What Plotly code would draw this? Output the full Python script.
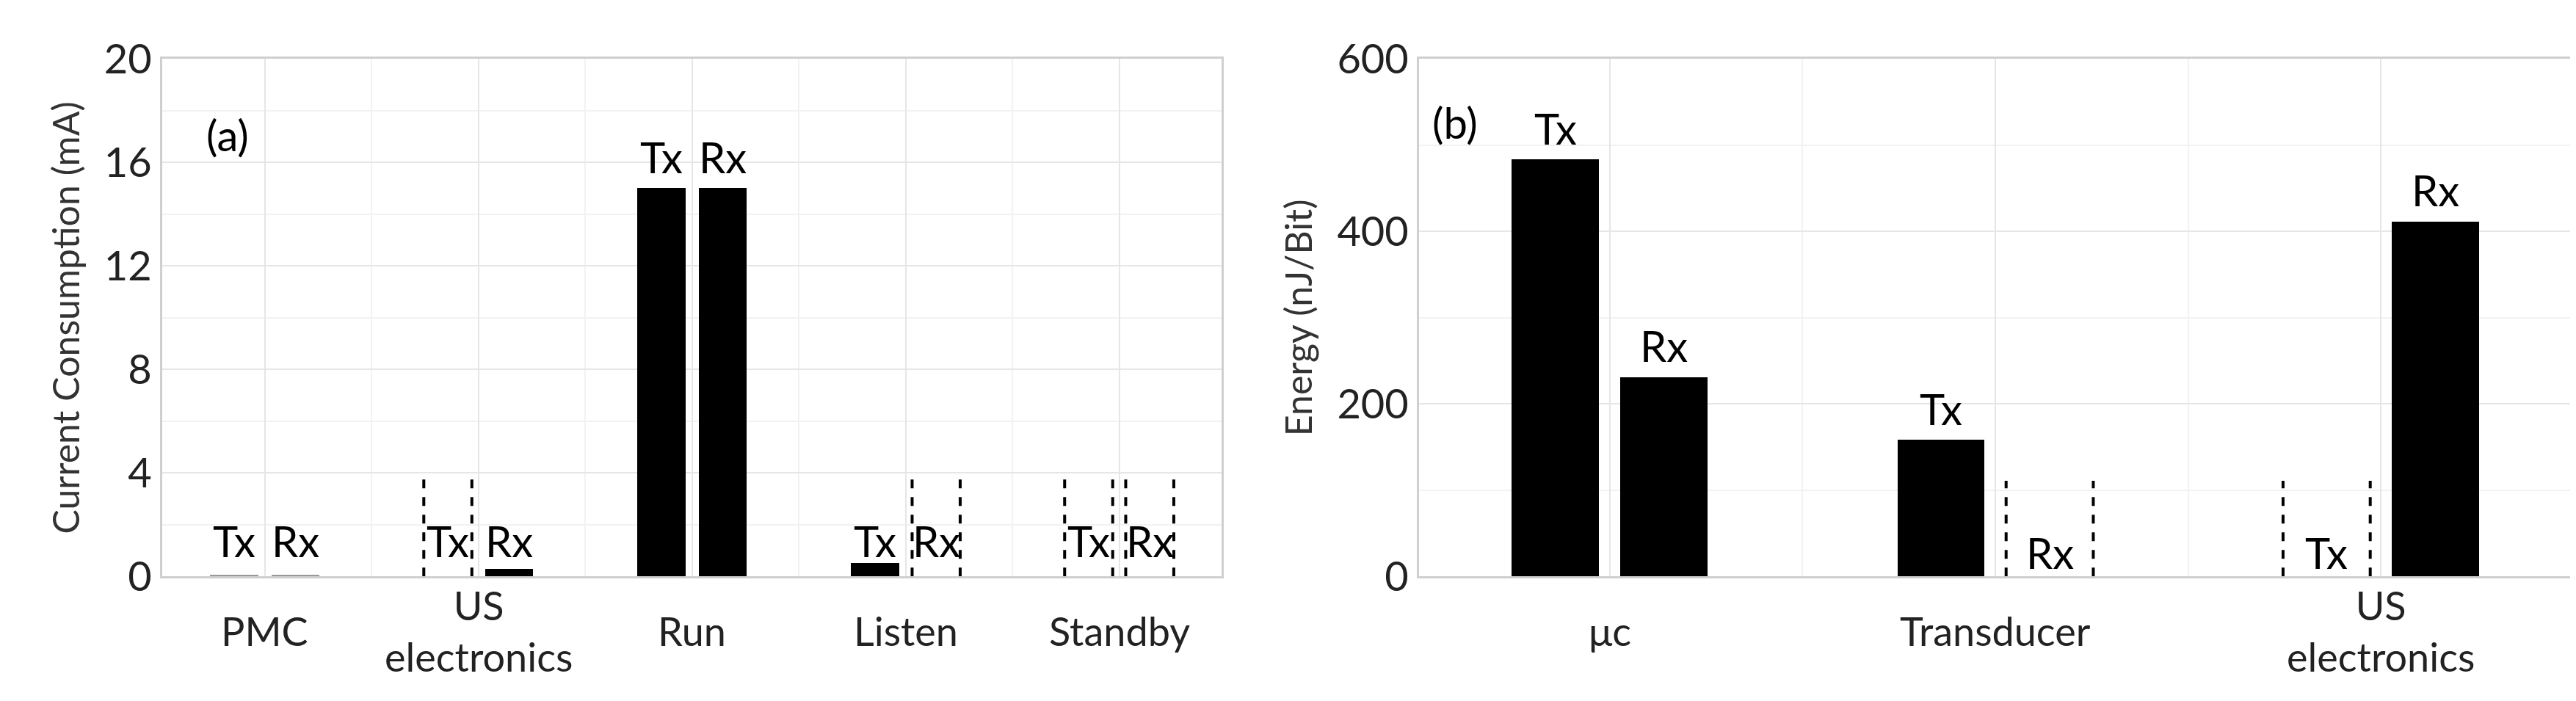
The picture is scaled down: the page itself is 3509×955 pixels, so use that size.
import plotly.graph_objects as go

# Panel (a)
cats_a = ["PMC", "US<br>electronics", "Run", "Listen", "Standby"]
tx_a = [0.05, None, 15.0, 0.5, None]      # None = dashed placeholder
rx_a = [0.05, 0.3, 15.0, None, None]
ph_a = 4.0          # placeholder height
lab_small_a = 1.4   # label height for low bars
# Panel (b)
cats_b = ["μc", "Transducer", "US<br>electronics"]
tx_b = [483, 158, None]
rx_b = [231, None, 411]
ph_b = 111
yticks_a = [0, 4, 8, 12, 16, 20]
yticks_b = [0, 200, 400, 600]

FONT = "Lato"
W_A, OFF_A = 0.225, 0.143
W_B, OFF_B = 0.226, 0.141

fig = go.Figure()

def panel(xa, ya, txv, rxv, ph, W, OFF, small, above_pad):
    for vals, sgn, name in [(txv, -1, "Tx"), (rxv, 1, "Rx")]:
        xs, ys, cols = [], [], []
        for i, v in enumerate(vals):
            xc = i + sgn * OFF
            if v is None:
                for e in (xc - W / 2, xc + W / 2):
                    fig.add_trace(go.Scatter(x=[e, e], y=[0, ph], mode="lines",
                                             line=dict(color="black", width=4, dash="dash"),
                                             xaxis=xa, yaxis=ya, showlegend=False, hoverinfo="skip"))
                ly, anc = small, "middle"
            else:
                xs.append(xc); ys.append(v)
                cols.append("#999999" if v < 0.1 else "black")
                if small is not None and v < ph:
                    ly, anc = small, "middle"
                else:
                    ly, anc = v + above_pad, "bottom"
            fig.add_annotation(x=xc, y=ly, xref=xa, yref=ya, text=name, showarrow=False,
                               yanchor=anc, font=dict(family=FONT, size=58, color="black"))
        fig.add_trace(go.Bar(x=xs, y=ys, width=W, marker=dict(color=cols, line_width=0),
                             xaxis=xa, yaxis=ya, showlegend=False))

panel("x", "y", tx_a, rx_a, ph_a, W_A, OFF_A, lab_small_a, 0.2)
panel("x2", "y2", tx_b, rx_b, ph_b, W_B, OFF_B, 28, 6)

# Category labels
for i, c in enumerate(cats_a):
    fig.add_annotation(x=i, y=-0.105, xref="x", yref="y domain", text=c, showarrow=False,
                       yanchor="middle", font=dict(family=FONT, size=54, color="#222"))
for i, c in enumerate(cats_b):
    fig.add_annotation(x=i, y=-0.105, xref="x2", yref="y2 domain", text=c, showarrow=False,
                       yanchor="middle", font=dict(family=FONT, size=54, color="#222"))

fig.add_annotation(x=0.04, y=0.905, xref="x domain", yref="y domain", text="(a)", showarrow=False,
                   font=dict(family=FONT, size=58, color="black"))
fig.add_annotation(x=0.01, y=0.93, xref="x2 domain", yref="y2 domain", text="(b)", showarrow=False,
                   xanchor="left", font=dict(family=FONT, size=58, color="black"))

grid = dict(showgrid=True, gridcolor="#e6e6e6", gridwidth=2, showline=True, linecolor="#cfcfcf",
            linewidth=3, mirror=True, zeroline=False, ticks="",
            tickfont=dict(family=FONT, size=56, color="#222"))
fig.update_layout(
    width=3509, height=955, paper_bgcolor="white", plot_bgcolor="white",
    margin=dict(l=0, r=0, t=0, b=0), bargap=0,
    xaxis=dict(domain=[0.0607, 0.472], range=[-0.48, 4.48], tickvals=list(range(5)),
               showticklabels=False, minor=dict(dtick=0.5, tick0=0, showgrid=True, gridcolor="#f2f2f2"), **grid),
    yaxis=dict(domain=[0.164, 0.958], range=[0, 20], tickvals=yticks_a,
               minor=dict(dtick=2, showgrid=True, gridcolor="#f2f2f2"),
               title=dict(text="Current Consumption (mA)", font=dict(family=FONT, size=50, color="#333"), standoff=18),
               **grid),
    xaxis2=dict(domain=[0.5486, 0.996], range=[-0.494, 2.494], tickvals=list(range(3)),
                showticklabels=False, minor=dict(dtick=0.5, tick0=0, showgrid=True, gridcolor="#f2f2f2"), **grid),
    yaxis2=dict(domain=[0.164, 0.958], range=[0, 600], tickvals=yticks_b, anchor="x2",
                minor=dict(dtick=100, showgrid=True, gridcolor="#f2f2f2"),
                title=dict(text="Energy (nJ/Bit)", font=dict(family=FONT, size=50, color="#333"), standoff=18),
                **grid),
)
fig.write_html("out.html")
